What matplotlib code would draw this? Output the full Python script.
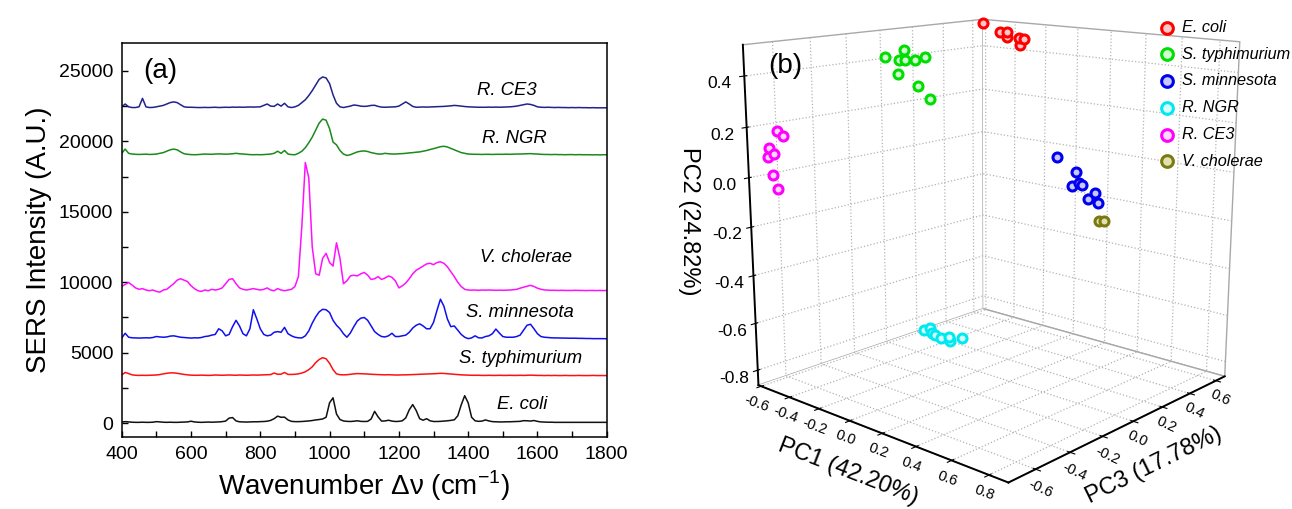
import numpy as np
import matplotlib
matplotlib.use("Agg")
import matplotlib.pyplot as plt
from mpl_toolkits.mplot3d import Axes3D  # noqa: F401

plt.rcParams['font.family'] = ['Liberation Sans', 'DejaVu Sans']
plt.rcParams['mathtext.fontset'] = 'custom'
plt.rcParams['mathtext.rm'] = 'Liberation Sans'
plt.rcParams['grid.linestyle'] = ':'
plt.rcParams['grid.color'] = '#b4b4b4'
plt.rcParams['grid.linewidth'] = 0.9

# ---------------- (a) SERS spectra, offset for display ----------------
wavenumber = list(range(400, 1801, 10))

e_coli = [
    80, 110, 90, 70, 60, 60, 70, 60, 60, 70,
    110, 90, 70, 60, 70, 60, 60, 70, 80, 90,
    140, 90, 70, 60, 70, 80, 70, 80, 90, 110,
    150, 360, 400, 160, 100, 90, 80, 90, 100, 100,
    110, 120, 140, 200, 320, 500, 420, 430, 230, 130,
    110, 110, 120, 140, 160, 190, 230, 260, 300, 420,
    1450, 1800, 650, 260, 160, 130, 120, 140, 170, 130,
    120, 130, 300, 840, 450, 150, 160, 210, 150, 120,
    130, 170, 380, 950, 1320, 900, 320, 210, 320, 170,
    120, 120, 130, 150, 170, 200, 240, 520, 1300, 1950,
    1450, 420, 170, 130, 150, 230, 160, 110, 100, 90,
    90, 100, 100, 110, 120, 130, 180, 170, 150, 190,
    130, 90, 80, 70, 70, 60, 60, 60, 60, 60,
    60, 60, 60, 60, 60, 60, 60, 60, 60, 60,
    60]

s_typhimurium = [
    3420, 3600, 3520, 3430, 3400, 3390, 3400, 3390, 3400, 3410,
    3420, 3450, 3500, 3540, 3570, 3570, 3540, 3500, 3460, 3430,
    3410, 3400, 3400, 3410, 3400, 3390, 3400, 3420, 3410, 3400,
    3410, 3420, 3410, 3400, 3420, 3410, 3400, 3410, 3420, 3410,
    3420, 3430, 3440, 3450, 3560, 3470, 3480, 3600, 3460, 3460,
    3470, 3500, 3560, 3650, 3800, 4000, 4300, 4520, 4650, 4570,
    4250, 3800, 3500, 3440, 3430, 3440, 3470, 3500, 3520, 3510,
    3500, 3490, 3470, 3460, 3450, 3440, 3430, 3440, 3430, 3420,
    3420, 3430, 3430, 3440, 3450, 3460, 3470, 3480, 3490, 3500,
    3510, 3520, 3540, 3530, 3510, 3490, 3470, 3450, 3430, 3420,
    3410, 3400, 3400, 3400, 3390, 3390, 3400, 3390, 3390, 3400,
    3390, 3390, 3400, 3390, 3390, 3400, 3390, 3400, 3410, 3400,
    3390, 3390, 3380, 3390, 3380, 3390, 3380, 3380, 3390, 3380,
    3380, 3380, 3390, 3380, 3380, 3380, 3390, 3380, 3380, 3380,
    3380]

s_minnesota = [
    6050, 6380, 6100, 6060, 6050, 6040, 6050, 6060, 6050, 6080,
    6150, 6120, 6100, 6120, 6180, 6200, 6150, 6100, 6080, 6060,
    6040, 6060, 6050, 6080, 6150, 6180, 6250, 6300, 6700, 6550,
    6200, 6300, 6850, 7300, 6900, 6350, 6200, 6700, 8050, 7400,
    6700, 6300, 6200, 6250, 6450, 6500, 6450, 6800, 6350, 6200,
    6100, 6060, 6050, 6200, 6550, 7100, 7550, 7900, 8080, 8050,
    7850, 7300, 6950, 6700, 6350, 6100, 6400, 6850, 7250, 7450,
    7500, 7300, 6900, 6500, 6300, 6150, 6120, 6200, 6380, 6150,
    6150, 6200, 6250, 6450, 6750, 6950, 7050, 6900, 6700, 6700,
    7150, 8000, 8800, 8300, 7400, 6850, 6900, 6600, 6300, 6100,
    6000, 6050, 6200, 6060, 6050, 6150, 6200, 6350, 6680, 6400,
    6150, 6100, 6100, 6100, 6150, 6250, 6600, 6950, 7020, 6700,
    6350, 6150, 6100, 6080, 6060, 6050, 6050, 6040, 6040, 6030,
    6030, 6030, 6020, 6020, 6010, 6010, 6000, 6000, 6000, 6000,
    5990]

v_cholerae = [
    9700, 9850, 9980, 9800, 9600, 9500, 9550, 9450, 9400, 9450,
    9350, 9300, 9450, 9500, 9700, 9900, 10150, 10250, 10150, 10050,
    9750, 9550, 9400, 9350, 9450, 9400, 9500, 9450, 9500, 9600,
    9900, 10200, 10250, 9900, 9600, 9500, 9450, 9500, 9550, 9500,
    9450, 9500, 9600, 9450, 9400, 9550, 9450, 9400, 9450, 9500,
    9700, 10400, 14000, 18500, 17400, 12500, 10600, 10500, 11700, 12050,
    11400, 11150, 12800, 11700, 9900, 10100, 10450, 10500, 10450, 10600,
    10700, 10500, 10200, 10250, 10400, 10200, 10300, 10450, 10350, 10100,
    9600, 9750, 9950, 10250, 10600, 10850, 11000, 11150, 11300, 11350,
    11250, 11400, 11450, 11350, 11100, 10750, 10400, 10000, 9700, 9500,
    9450, 9440, 9450, 9430, 9450, 9440, 9450, 9440, 9430, 9440,
    9430, 9440, 9450, 9470, 9500, 9580, 9650, 9720, 9780, 9700,
    9580, 9500, 9460, 9440, 9430, 9430, 9420, 9430, 9420, 9420,
    9420, 9430, 9420, 9420, 9410, 9420, 9420, 9410, 9420, 9410,
    9420]

r_ngr = [
    19150, 19450, 19150, 19100, 19080, 19070, 19080, 19090, 19070, 19080,
    19100, 19150, 19200, 19300, 19400, 19450, 19400, 19250, 19120, 19080,
    19060, 19050, 19060, 19080, 19100, 19090, 19080, 19100, 19110, 19100,
    19090, 19100, 19120, 19150, 19120, 19100, 19080, 19060, 19050, 19060,
    19050, 19060, 19080, 19100, 19150, 19300, 19150, 19350, 19100, 19060,
    19050, 19150, 19300, 19550, 19900, 20300, 20800, 21300, 21580, 21500,
    20900, 19950, 19750, 19350, 19100, 19000, 19050, 19150, 19250, 19300,
    19320, 19280, 19200, 19150, 19100, 19100, 19150, 19120, 19100, 19100,
    19120, 19130, 19150, 19180, 19200, 19230, 19250, 19300, 19350, 19420,
    19480, 19550, 19620, 19650, 19600, 19500, 19400, 19300, 19200, 19150,
    19100, 19090, 19080, 19080, 19070, 19080, 19080, 19070, 19080, 19080,
    19080, 19090, 19080, 19090, 19100, 19100, 19110, 19120, 19130, 19110,
    19100, 19080, 19070, 19070, 19060, 19070, 19060, 19060, 19050, 19060,
    19060, 19050, 19060, 19050, 19050, 19050, 19040, 19050, 19040, 19050,
    19050]

r_ce3 = [
    22450, 22650, 22450, 22400, 22400, 22450, 23050, 22450, 22400, 22410,
    22450, 22500, 22550, 22650, 22750, 22800, 22750, 22600, 22450, 22420,
    22420, 22410, 22400, 22400, 22410, 22400, 22410, 22420, 22400, 22410,
    22420, 22410, 22430, 22420, 22430, 22420, 22430, 22440, 22430, 22440,
    22450, 22550, 22650, 22500, 22480, 22650, 22500, 22700, 22450, 22400,
    22450, 22550, 22750, 22950, 23250, 23600, 24000, 24400, 24570, 24500,
    24100, 23300, 22700, 22450, 22400, 22450, 22500, 22580, 22550, 22500,
    22480, 22500, 22550, 22560, 22480, 22430, 22420, 22430, 22440, 22450,
    22500, 22650, 22800, 22650, 22480, 22420, 22430, 22440, 22430, 22440,
    22450, 22460, 22470, 22480, 22500, 22520, 22550, 22530, 22500, 22470,
    22450, 22440, 22430, 22420, 22420, 22420, 22430, 22420, 22430, 22420,
    22430, 22440, 22450, 22470, 22500, 22550, 22600, 22650, 22620, 22550,
    22450, 22420, 22410, 22420, 22410, 22400, 22410, 22400, 22400, 22390,
    22400, 22390, 22400, 22390, 22390, 22380, 22390, 22380, 22380, 22380,
    22380]

spectra = [
    ('E. coli', e_coli, '#111111', 1010),
    ('S. typhimurium', s_typhimurium, '#ff1010', 4250),
    ('S. minnesota', s_minnesota, '#1010ee', 7510),
    ('V. cholerae', v_cholerae, '#ff10ff', 11460),
    ('R. NGR', r_ngr, '#1a8a1a', 19860),
    ('R. CE3', r_ce3, '#22228c', 23290),
]
label_x = [1555, 1550, 1550, 1567, 1532, 1512]

# ---------------- (b) PCA scores (PC1, PC3, PC2) ----------------
ecoli_pc1 = [-0.547, -0.431, -0.390, -0.390, -0.311, -0.273, -0.301]
ecoli_pc3 = [0.599, 0.599, 0.599, 0.599, 0.599, 0.599, 0.599]
ecoli_pc2 = [0.512, 0.478, 0.483, 0.458, 0.460, 0.458, 0.429]

styph_pc1 = [-0.542, -0.415, -0.448, -0.409, -0.342, -0.281, -0.457, -0.325, -0.249]
styph_pc3 = [-0.04, -0.04, -0.04, -0.04, -0.04, -0.04, -0.04, -0.04, -0.04]
styph_pc2 = [0.418, 0.456, 0.411, 0.415, 0.418, 0.436, 0.351, 0.314, 0.267]

smin_pc1 = [0.378, 0.483, 0.460, 0.516, 0.498, 0.588, 0.554, 0.606]
smin_pc3 = [0.102, 0.102, 0.102, 0.102, 0.102, 0.102, 0.102, 0.102]
smin_pc2 = [0.080, 0.034, -0.024, -0.012, -0.006, -0.034, -0.061, -0.070]

rngr_pc1 = [-0.307, -0.267, -0.257, -0.234, -0.196, -0.143, -0.138, -0.059]
rngr_pc3 = [-0.04, -0.04, -0.04, -0.04, -0.04, -0.04, -0.04, -0.04]
rngr_pc2 = [-0.736, -0.718, -0.740, -0.743, -0.750, -0.736, -0.752, -0.720]

rce3_pc1 = [-0.454, -0.412, -0.514, -0.524, -0.480, -0.491, -0.465]
rce3_pc3 = [-0.72, -0.72, -0.72, -0.72, -0.72, -0.72, -0.72]
rce3_pc2 = [0.199, 0.185, 0.127, 0.091, 0.107, 0.023, -0.030]

vchol_pc1 = [0.615, 0.638]
vchol_pc3 = [0.102, 0.102]
vchol_pc2 = [-0.143, -0.136]

groups = [
    ('E. coli', ecoli_pc1, ecoli_pc3, ecoli_pc2, '#ff0000', '#ffc8c8'),
    ('S. typhimurium', styph_pc1, styph_pc3, styph_pc2, '#00dd00', '#d0ffd0'),
    ('S. minnesota', smin_pc1, smin_pc3, smin_pc2, '#0000ee', '#c8c8ff'),
    ('R. NGR', rngr_pc1, rngr_pc3, rngr_pc2, '#00e8f0', '#d8ffff'),
    ('R. CE3', rce3_pc1, rce3_pc3, rce3_pc2, '#ff00ff', '#ffd8ff'),
    ('V. cholerae', vchol_pc1, vchol_pc3, vchol_pc2, '#7a7a10', '#e0e0b0'),
]

pc1_ticks = [-0.6, -0.4, -0.2, 0.0, 0.2, 0.4, 0.6, 0.8]
pc3_ticks = [-0.6, -0.4, -0.2, 0.0, 0.2, 0.4, 0.6]
pc2_ticks = [-0.8, -0.6, -0.4, -0.2, 0.0, 0.2, 0.4]

fig = plt.figure(figsize=(12.92, 5.09), dpi=100)

# ---- panel (a)
ax = fig.add_axes([0.0942, 0.1409, 0.3754, 0.7752])
for (name, vals, col, ly), lx in zip(spectra, label_x):
    ax.plot(wavenumber, vals, color=col, lw=1.1)
    ax.text(lx, ly, name, ha='center', va='baseline', style='italic',
            fontsize=13.3)
ax.set_xlim(400, 1800)
ax.set_ylim(-1000, 27000)
ax.set_xticks(range(400, 1801, 200))
ax.set_xticks(range(500, 1800, 200), minor=True)
ax.set_yticks(range(0, 25001, 5000))
ax.set_yticks(range(2500, 27000, 5000), minor=True)
ax.tick_params(which='both', direction='in', labelsize=14, length=4,
               width=1, pad=6)
for s in ax.spines.values():
    s.set_linewidth(1.1)
ax.set_xlabel('Wavenumber \u0394\u03bd (cm$^{-1}$)', fontsize=20, labelpad=4)
ax.set_ylabel('SERS Intensity (A.U.)', fontsize=20, labelpad=5)
ax.text(0.044, 0.928, '(a)', transform=ax.transAxes, fontsize=20,
        va='center', ha='left')

# ---- panel (b)
ax2 = fig.add_axes([0.549, 0.08, 0.43, 0.96], projection='3d')
ax2.set_proj_type('persp', focal_length=0.5)
ax2.view_init(elev=14, azim=-48)
ax2.set_box_aspect((1, 1, 1.02), zoom=1.18)
for name, px, py, pz, edge, face in groups:
    ax2.scatter(px, py, pz, s=42, marker='o', facecolors=face,
                edgecolors=edge, linewidths=2.2, depthshade=False,
                label=name)
ax2.set_xlim(-0.62, 0.9)
ax2.set_ylim(-0.75, 0.67)
ax2.set_zlim(-0.865, 0.52)
ax2.set_xticks(pc1_ticks)
ax2.set_yticks(pc3_ticks)
ax2.set_zticks(pc2_ticks)
for a in (ax2.xaxis, ax2.yaxis, ax2.zaxis):
    a.set_pane_color((1, 1, 1, 1))
    a.pane.set_edgecolor('#a8a8a8')
    a.line.set_color('black')
    a.line.set_linewidth(1.4)
    a.set_major_formatter(matplotlib.ticker.FormatStrFormatter('%.1f'))
ax2.zaxis.set_ticks_position('lower')
ax2.zaxis.set_label_position('lower')
ax2.tick_params(axis='x', labelsize=10.5, pad=-5, labelrotation=-20)
ax2.tick_params(axis='y', labelsize=10.5, pad=-5, labelrotation=-25)
ax2.tick_params(axis='z', labelsize=12.5, pad=1)
ax2.set_xlabel('PC1 (42.20%)', fontsize=17, labelpad=-4)
ax2.set_ylabel('PC3 (17.78%)', fontsize=17, labelpad=-4)
ax2.zaxis.set_rotate_label(False)
ax2.set_zlabel('PC2 (24.82%)', fontsize=17, rotation=-90, labelpad=2)
ax2.legend(loc='upper left', bbox_to_anchor=(1159 / 1292, 1 - 20 / 509),
           bbox_transform=fig.transFigure, frameon=False,
           prop={'style': 'italic', 'size': 11.7}, handlelength=1.0,
           handletextpad=0.4, labelspacing=0.72, markerscale=1.3,
           borderaxespad=0, borderpad=0)
fig.text(768 / 1292, 1 - 66 / 509, '(b)', fontsize=20, va='center')

fig.savefig('out.png', dpi=100)
